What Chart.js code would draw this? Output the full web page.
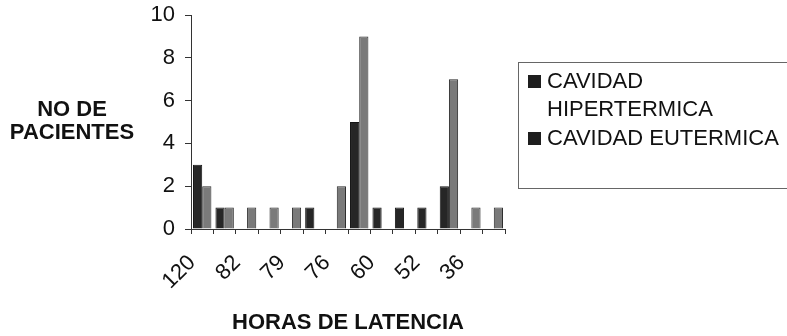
<!DOCTYPE html>
<html>
<head>
<meta charset="utf-8">
<script src="https://cdn.jsdelivr.net/npm/chart.js@4.4.1/dist/chart.umd.min.js"></script>
<style>
  html, body { margin: 0; padding: 0; background: #fff; }
</style>
</head>
<body>
<canvas id="grafico" width="787" height="336"></canvas>
<script>
// datos (horas de latencia, solo se ven etiquetas alternas)
const categorias = ['120', '', '82', '', '79', '', '76', '', '60', '', '52', '', '36', ''];
const hipertermica = [3, 1, 0, 0, 0, 1, 0, 5, 1, 1, 1, 2, 0, 0];
const eutermica = [2, 1, 1, 1, 1, 0, 2, 9, 0, 0, 0, 7, 1, 1];
const nombresSeries = [['CAVIDAD', 'HIPERTERMICA'], ['CAVIDAD EUTERMICA']];

const FUENTE = '"Liberation Sans", Arial, sans-serif';
const colores = ['#262626', '#7a7a7a'];

// titulo del eje Y horizontal + leyenda en caja
const pluginExtras = {
    id: 'extras',
    afterDraw(chart) {
        const ctx = chart.ctx;
        ctx.save();
        ctx.fillStyle = '#111';
        ctx.font = 'bold 22px ' + FUENTE;
        ctx.textAlign = 'center';
        ctx.textBaseline = 'middle';
        ctx.fillText('NO DE', 72, 110);
        ctx.fillText('PACIENTES', 72, 133);

        // caja de leyenda
        ctx.strokeStyle = '#666';
        ctx.lineWidth = 1;
        ctx.strokeRect(518.5, 62.5, 290, 126);
        ctx.font = '22px ' + FUENTE;
        ctx.textAlign = 'left';
        let y = 82;
        nombresSeries.forEach((lineas, i) => {
            ctx.fillStyle = '#1e1e1e';
            ctx.fillRect(528, y - 7, 13, 13);
            ctx.fillStyle = '#111';
            lineas.forEach((t, j) => ctx.fillText(t, 547, y + j * 28));
            y += lineas.length * 28 + 1;
        });
        ctx.restore();
    }
};

const ctx = document.getElementById('grafico').getContext('2d');
new Chart(ctx, {
    type: 'bar',
    data: {
        labels: categorias,
        datasets: [
            { label: nombresSeries[0].join(' '), data: hipertermica, backgroundColor: colores[0], borderColor: '#151515', borderWidth: 1 },
            { label: nombresSeries[1].join(' '), data: eutermica, backgroundColor: colores[1], borderColor: '#2a2a2a', borderWidth: 1 }
        ]
    },
    options: {
        responsive: false,
        animation: false,
        devicePixelRatio: 1,
        layout: { padding: { left: 0, top: 15, right: 282, bottom: 0 } },
        plugins: { legend: { display: false }, tooltip: { enabled: false } },
        datasets: { bar: { categoryPercentage: 0.82, barPercentage: 1.0 } },
        scales: {
            x: {
                afterFit: (s) => { s.height = 107; },
                grid: { display: true, drawOnChartArea: false, drawTicks: true, tickLength: 5, color: '#333', offset: true },
                border: { display: true, color: '#333', width: 1 },
                ticks: {
                    autoSkip: false, maxRotation: 45, minRotation: 45,
                    color: '#111', font: { family: FUENTE, size: 22 }, padding: 16, labelOffset: -10
                },
                title: { display: true, text: 'HORAS DE LATENCIA', color: '#111', font: { family: FUENTE, size: 22, weight: 'bold' }, padding: { top: 0, bottom: 0 } }
            },
            y: {
                min: 0, max: 10,
                afterFit: (s) => { s.width = 191; s.paddingTop = 0; s.paddingBottom = 0; },
                ticks: { stepSize: 2, color: '#111', font: { family: FUENTE, size: 22 }, padding: 10 },
                grid: { display: true, drawOnChartArea: false, drawTicks: true, tickLength: 6, color: '#333' },
                border: { display: true, color: '#333', width: 1 }
            }
        }
    },
    plugins: [pluginExtras]
});
</script>
</body>
</html>
